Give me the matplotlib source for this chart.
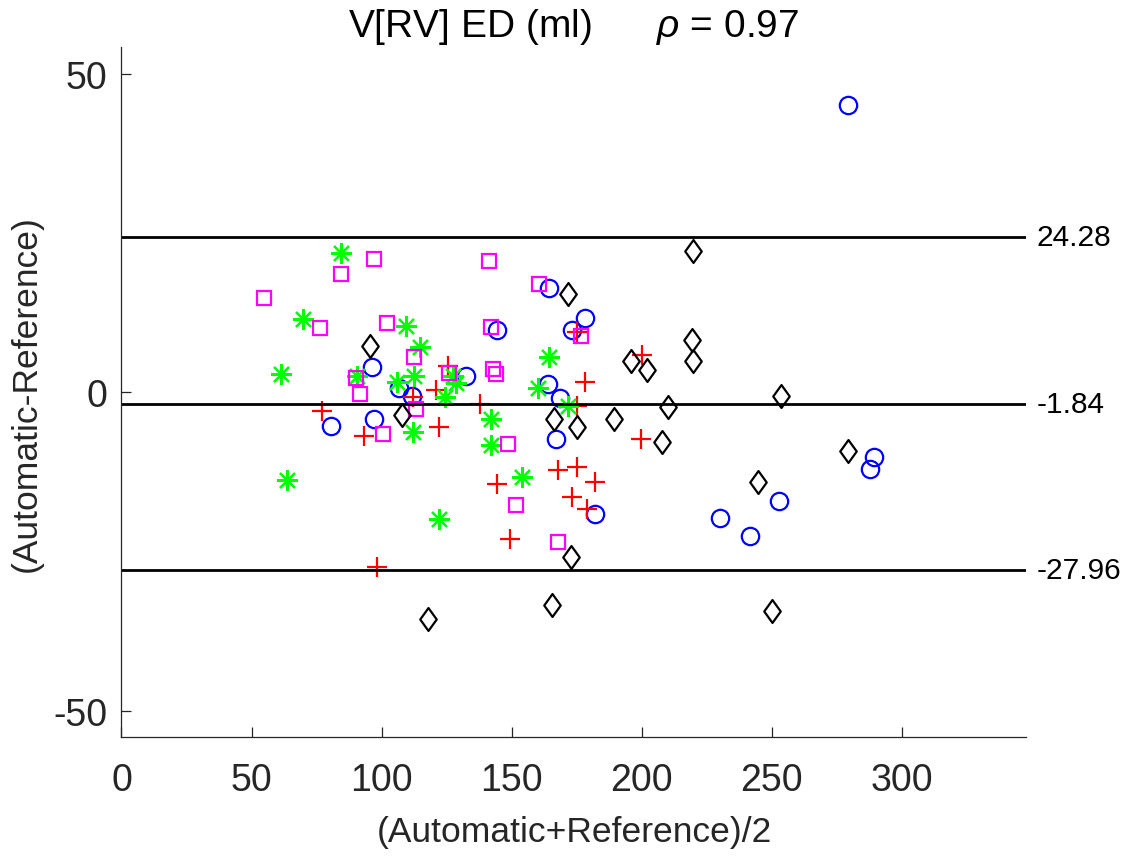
import numpy as np
import matplotlib
matplotlib.use('Agg')
import matplotlib.pyplot as plt
from matplotlib.path import Path
import matplotlib.transforms as mtransforms

plt.rcParams['font.family'] = ['Liberation Sans', 'DejaVu Sans']
plt.rcParams['mathtext.fontset'] = 'custom'
plt.rcParams['mathtext.it'] = 'Liberation Sans:italic'
plt.rcParams['axes.unicode_minus'] = False

# blue circles
x_circ = [80.5, 96.5, 97.2, 106.8, 111.8, 132.5, 144.5, 164.5, 163.9, 168.7,
          167.0, 173.4, 178.3, 182.1, 230.2, 241.5, 252.9, 279.2, 287.9, 289.5]
y_circ = [-5.3, 3.9, -4.2, 0.6, -0.6, 2.6, 9.8, 16.3, 1.3, -1.0,
          -7.3, 9.8, 11.7, -19.1, -19.7, -22.6, -17.1, 45.1, -12.1, -10.2]

# red plus
x_plus = [77.2, 93.3, 98.2, 112.2, 121.0, 122.1, 125.7, 137.9, 144.5, 149.4,
          167.8, 175.1, 182.1, 173.4, 178.9, 175.1, 178.3, 175.1, 200.1, 199.8]
y_plus = [-2.9, -6.9, -27.5, -0.8, 0.4, -5.5, 4.1, -1.9, -14.5, -23.0,
          -12.2, -11.8, -14.1, -16.4, -18.3, 9.4, 1.6, -2.2, 5.8, -7.3]

# green stars
x_star = [84.3, 69.9, 109.3, 114.8, 61.2, 90.5, 105.8, 112.5, 127.6, 128.7,
          124.4, 142.0, 142.0, 63.5, 122.1, 154.2, 164.5, 160.3, 171.8, 112.2]
y_star = [21.9, 11.5, 10.4, 7.0, 2.9, 2.6, 1.6, 2.6, 2.6, 1.4,
          -0.7, -4.2, -8.3, -13.8, -20.0, -13.4, 5.5, 0.6, -2.2, -6.2]

# magenta squares
x_sq = [54.8, 84.4, 97.2, 76.5, 102.0, 112.5, 90.1, 91.7, 113.3, 100.5,
        126.1, 141.3, 142.1, 143.0, 143.9, 148.8, 151.7, 160.7, 176.6, 167.8]
y_sq = [14.7, 18.6, 20.9, 10.1, 10.8, 5.5, 2.2, -0.3, -2.7, -6.6,
        3.0, 20.6, 10.2, 3.6, 2.9, -8.2, -17.8, 17.0, 8.8, -23.6]

# black diamonds
x_dia = [95.6, 107.8, 118.0, 171.8, 166.3, 175.1, 165.5, 172.8, 189.4, 195.8,
         202.2, 210.3, 207.8, 219.9, 219.3, 219.9, 244.7, 253.5, 250.3, 279.2]
y_dia = [7.2, -3.6, -35.7, 15.4, -4.2, -5.5, -33.4, -25.9, -4.2, 4.8,
         3.5, -2.3, -7.9, 22.2, 8.2, 4.8, -14.1, -0.6, -34.4, -9.2]

mean_diff = -1.84
upper_loa = 24.28
lower_loa = -27.96

fig = plt.figure(figsize=(11.29, 8.62), dpi=100)
ax = fig.add_axes([0.1076, 0.1435, 0.8016, 0.8010])

diamond = Path([(0, 1), (0.72, 0), (0, -1), (-0.72, 0), (0, 1)],
               [Path.MOVETO, Path.LINETO, Path.LINETO, Path.LINETO, Path.CLOSEPOLY])

mew = 1.6
ax.plot(x_circ, y_circ, 'o', mfc='none', mec='#0000ff', ms=12.5, mew=mew)
ax.plot(x_plus, y_plus, '+', color='#ff0000', ms=15, mew=mew)
ax.plot(x_star, y_star, linestyle='none', marker=(8, 2, 0), color='#00ff00', ms=15, mew=mew)
ax.plot(x_sq, y_sq, 's', mfc='none', mec='#ff00ff', ms=9.5, mew=mew)
ax.plot(x_dia, y_dia, linestyle='none', marker=diamond, mfc='none', mec='black', ms=16.5, mew=mew)

trans = mtransforms.blended_transform_factory(ax.transAxes, ax.transData)
for v in [upper_loa, mean_diff, lower_loa]:
    ax.axhline(v, color='black', lw=2.0)
    ax.text(1.011, v, f'{v:.2f}', transform=trans, ha='left', va='center', fontsize=21.5)

ax.set_xlim(0, 348)
ax.set_ylim(-54.2, 54.2)
ax.set_xticks([0, 50, 100, 150, 200, 250, 300])
ax.set_yticks([-50, 0, 50])

for s in ['top', 'right']:
    ax.spines[s].set_visible(False)
for s in ['left', 'bottom']:
    ax.spines[s].set_color('#262626')
    ax.spines[s].set_linewidth(0.9)

ax.tick_params(direction='in', length=7, width=0.9, colors='#262626', labelsize=27)
ax.tick_params(axis='x', pad=18)
ax.tick_params(axis='y', pad=10)

ax.set_xlabel('(Automatic+Reference)/2', fontsize=25.5, color='#262626', labelpad=12)
ax.set_ylabel('(Automatic-Reference)', fontsize=25.5, color='#262626', labelpad=8)
ax.set_title('V[RV] ED (ml)      $\\rho$ = 0.97', fontsize=28, pad=8)

fig.savefig('out.png', dpi=100)
